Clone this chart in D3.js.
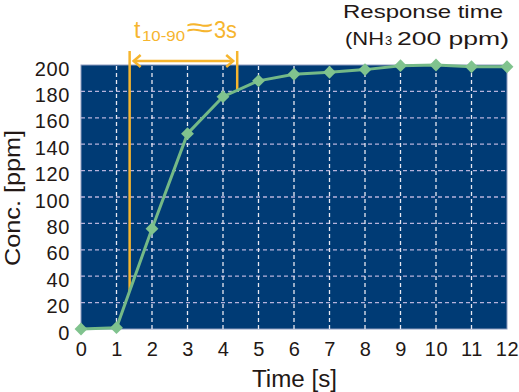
<!DOCTYPE html>
<html>
<head>
<meta charset="utf-8">
<script src="https://cdn.jsdelivr.net/npm/d3@7"></script>
<style>
  body { margin: 0; background: #fff; }
  svg text { font-family: "Liberation Sans", Arial, sans-serif; fill: #231815; }
</style>
</head>
<body>
<svg id="chart"></svg>
<script>
// Data
var times = [0, 1, 2, 3, 4, 5, 6, 7, 8, 9, 10, 11, 12];
var conc = [0, 1, 76, 148, 176, 188, 193, 194.5, 196.5, 199.5, 200, 198.7, 198.7];
var yTicks = [0, 20, 40, 60, 80, 100, 120, 140, 160, 180, 200];
var t10 = 1.37, t90 = 4.4;   // t10-90 markers

var width = 519, height = 392;
var margin = { left: 81, right: 12, top: 65, bottom: 63 };

var svg = d3.select('#chart').attr('width', width).attr('height', height);

var x = d3.scaleLinear().domain([0, 12]).range([margin.left, width - margin.right]);
var y = d3.scaleLinear().domain([0, 200]).range([height - margin.bottom, margin.top]);

// stretch text to the reference's wider glyphs
function fit(sel, len) {
    return sel.attr('textLength', len).attr('lengthAdjust', 'spacingAndGlyphs');
}

// plot background
svg.append('rect')
    .attr('x', x(0)).attr('y', y(200))
    .attr('width', x(12) - x(0)).attr('height', y(0) - y(200))
    .style('fill', '#003b75')
    .style('stroke', '#8e9cbf').style('stroke-width', 1);

// grid lines
svg.append('g').selectAll('line').data(yTicks.slice(1, -1)).enter().append('line')
    .attr('x1', x(0)).attr('x2', x(12))
    .attr('y1', function (d) { return y(d); }).attr('y2', function (d) { return y(d); })
    .style('stroke', '#b7b3dc').style('stroke-width', 1.3).style('stroke-dasharray', '4,3');
svg.append('g').selectAll('line').data(times.slice(1, -1)).enter().append('line')
    .attr('y1', y(0)).attr('y2', y(200))
    .attr('x1', function (d) { return x(d); }).attr('x2', function (d) { return x(d); })
    .style('stroke', '#e8e8f2').style('stroke-width', 1.3).style('stroke-dasharray', '4,3');

// axes (labels only)
var yAxis = svg.append('g').attr('transform', 'translate(70,0)')
    .call(d3.axisLeft(y).tickValues(yTicks).tickSize(0).tickPadding(0));
var xAxis = svg.append('g').attr('transform', 'translate(0,356)')
    .call(d3.axisBottom(x).tickValues(times).tickSize(0).tickPadding(0));
[yAxis, xAxis].forEach(function (a) {
    a.select('.domain').remove();
    a.selectAll('text').style('font-size', '20px').style('fill', '#231815')
        .style('letter-spacing', '0.6px')
        .style('font-family', '"Liberation Sans", Arial, sans-serif');
});
yAxis.selectAll('text').attr('x', 0).attr('dy', null).attr('y', 10);
xAxis.selectAll('text').attr('dy', null).attr('y', 0);

// axis titles
fit(svg.append('text').attr('x', 252).attr('y', 387)
    .style('font-size', '23px').text('Time [s]'), 85);
fit(svg.append('text').attr('transform', 'translate(20,266)rotate(-90)')
    .style('font-size', '22px').text('Conc. [ppm]'), 136);

// title
fit(svg.append('text').attr('x', 343).attr('y', 18)
    .style('font-size', '19px').text('Response time'), 160);
var t2 = svg.append('text').attr('y', 44.5).style('font-size', '19px');
fit(t2.append('tspan').attr('x', 345).text('(NH'), 39);
t2.append('tspan').attr('x', 385).style('font-size', '13px').text('3');
fit(t2.append('tspan').attr('x', 397).text('200 ppm)'), 112);

// t10-90 markers
var orange = '#f6b52e';
var line = d3.line().x(function (d) { return x(d[0]); }).y(function (d) { return y(d[1]); });
function interp(t) {
    var i = Math.floor(t);
    return conc[i] + (t - i) * (conc[i + 1] - conc[i]);
}
[t10, t90].forEach(function (t) {
    svg.append('line')
        .attr('x1', x(t)).attr('x2', x(t))
        .attr('y1', 51).attr('y2', y(interp(t)))
        .style('stroke', orange).style('stroke-width', 2.5);
});
var ay = 61;
svg.append('line').attr('x1', x(t10) + 4).attr('x2', x(t90) - 4).attr('y1', ay).attr('y2', ay)
    .style('stroke', orange).style('stroke-width', 2.5);
svg.append('path')
    .attr('d', 'M' + (x(t10) + 11) + ',' + (ay - 6) + 'L' + (x(t10) + 4) + ',' + ay + 'L' + (x(t10) + 11) + ',' + (ay + 6)
        + 'M' + (x(t90) - 11) + ',' + (ay - 6) + 'L' + (x(t90) - 4) + ',' + ay + 'L' + (x(t90) - 11) + ',' + (ay + 6))
    .style('fill', 'none').style('stroke', orange).style('stroke-width', 2.5);

var lbl = svg.append('text').attr('y', 38).style('font-size', '23px');
lbl.append('tspan').style('fill', orange).attr('x', 134).text('t');
fit(lbl.append('tspan').style('fill', orange).style('font-size', '15px').attr('x', 142).attr('y', 41)
    .text('10-90'), 43);
fit(lbl.append('tspan').style('fill', orange).attr('x', 186).attr('y', 37).style('font-size', '28px')
    .text('\u2248'), 27);
fit(lbl.append('tspan').style('fill', orange).attr('x', 214).attr('y', 38).text('3s'), 23);

// data line and markers
var pts = times.map(function (t, i) { return [t, conc[i]]; });
svg.append('path').datum(pts).attr('d', line)
    .style('fill', 'none').style('stroke', '#74b987').style('stroke-width', 3);
svg.append('g').selectAll('path').data(pts).enter().append('path')
    .attr('d', d3.symbol().type(d3.symbolDiamond2).size(105))
    .attr('transform', function (d) { return 'translate(' + x(d[0]) + ',' + y(d[1]) + ')'; })
    .style('fill', '#80c38e');
</script>
</body>
</html>
